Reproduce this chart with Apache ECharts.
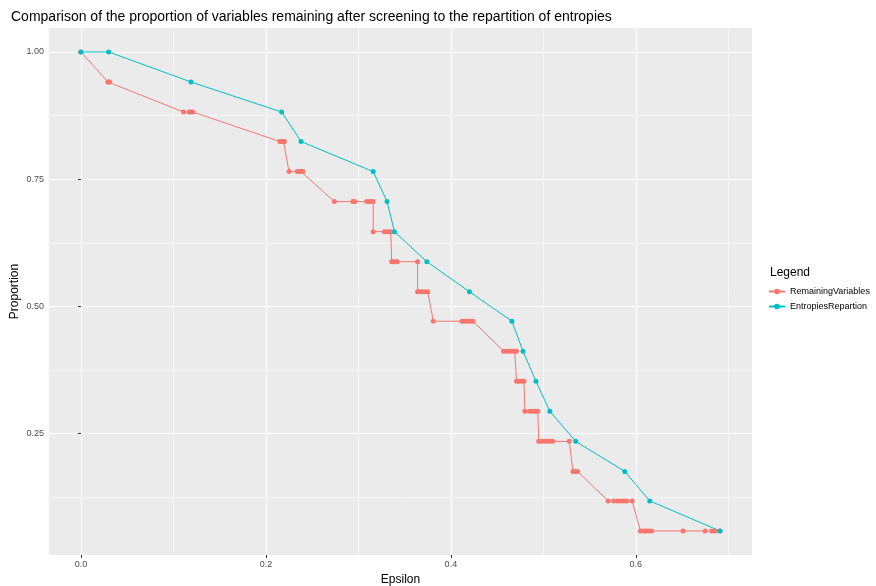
<!DOCTYPE html>
<html>
<head>
<meta charset="utf-8">
<script src="https://cdn.jsdelivr.net/npm/echarts@6/dist/echarts.min.js"></script>
<style>
html,body{margin:0;padding:0;background:#fff;}
#chart{width:876px;height:586px;}
</style>
</head>
<body>
<div id="chart"></div>
<script>
// remaining variables (red)
var remX = [0,
	0.029,0.030,0.031,
	0.111,0.117,0.119,0.121,
	0.215,0.217,0.219,0.220,
	0.225,0.234,0.236,0.238,0.240,
	0.274,0.294,0.296,0.309,0.312,0.314,0.316,
	0.316,0.328,0.331,0.333,0.335,
	0.336,0.338,0.340,0.342,0.364,
	0.364,0.366,0.369,0.372,0.375,
	0.381,0.412,0.415,0.418,0.421,0.424,
	0.457,0.460,0.463,0.466,0.469,0.471,
	0.471,0.473,0.476,0.479,
	0.480,0.485,0.488,0.491,0.494,
	0.495,0.498,0.501,0.504,0.507,0.510,0.528,
	0.532,0.534,0.537,
	0.570,0.576,0.580,0.584,0.587,0.590,0.596,
	0.605,0.608,0.611,0.614,0.617,0.651,0.675,0.682,0.686,0.691];
var remY = [1,
	0.941,0.941,0.941,
	0.882,0.882,0.882,0.882,
	0.824,0.824,0.824,0.824,
	0.765,0.765,0.765,0.765,0.765,
	0.706,0.706,0.706,0.706,0.706,0.706,0.706,
	0.647,0.647,0.647,0.647,0.647,
	0.588,0.588,0.588,0.588,0.588,
	0.529,0.529,0.529,0.529,0.529,
	0.471,0.471,0.471,0.471,0.471,0.471,
	0.412,0.412,0.412,0.412,0.412,0.412,
	0.353,0.353,0.353,0.353,
	0.294,0.294,0.294,0.294,0.294,
	0.235,0.235,0.235,0.235,0.235,0.235,0.235,
	0.176,0.176,0.176,
	0.118,0.118,0.118,0.118,0.118,0.118,0.118,
	0.059,0.059,0.059,0.059,0.059,0.059,0.059,0.059,0.059,0.059];

// entropies repartition (teal)
var entX = [0,0.030,0.119,0.217,0.238,0.316,0.331,0.339,0.374,0.420,0.466,0.478,0.492,0.507,0.535,0.588,0.615,0.691];
var entY = [1,1,0.941,0.882,0.824,0.765,0.706,0.647,0.588,0.529,0.471,0.412,0.353,0.294,0.235,0.176,0.118,0.059];

var xTicks = [0,0.2,0.4,0.6];
var xMinor = [0.1,0.3,0.5,0.7];
var yTicks = [0.25,0.5,0.75,1];
var yMinor = [0.125,0.375,0.625,0.875];

function pairs(xs,ys){
	var out = [];
	for(var i=0;i<xs.length;i++){
		out.push([xs[i],ys[i]]);
	}
	return out;
}

var xMin = -0.03455, xMax = 0.7256;
var yMin = 0.01176, yMax = 1.04706;
var font = 'Liberation Sans, Arial, Helvetica, sans-serif';

var myChart = echarts.init(document.getElementById('chart'));
var option = {
	animation:false,
	backgroundColor:'#ffffff',
	title:[{
		text:'Comparison of the proportion of variables remaining after screening to the repartition of entropies',
		left:6,top:5,
		textStyle:{fontFamily:font,fontSize:14,fontWeight:'normal',color:'#000'}
	},{
		text:'Legend',
		left:765,top:262,
		textStyle:{fontFamily:font,fontSize:12,fontWeight:'normal',color:'#000'}
	}],
	legend:{
		orient:'vertical',
		left:763,top:282,
		itemWidth:16,itemHeight:7,itemGap:6,
		textStyle:{fontFamily:font,fontSize:9,color:'#000'},
		data:['RemainingVariables','EntropiesRepartion']
	},
	grid:{left:49,right:124,top:28,bottom:31,backgroundColor:'#EBEBEB',show:true,borderWidth:0,
		containLabel:false,outerBoundsMode:'none'},
	xAxis:[{
		type:'value',min:xMin,max:xMax,
		name:'Epsilon',nameLocation:'middle',nameGap:14,
		nameTextStyle:{fontFamily:font,fontSize:12,color:'#000'},
		axisLine:{show:false},
		axisTick:{show:true,length:3,customValues:xTicks,lineStyle:{color:'#333'}},
		axisLabel:{customValues:xTicks,fontFamily:font,fontSize:9,color:'#4D4D4D',margin:5,
			formatter:function(v){return v.toFixed(1);}},
		splitLine:{show:true,lineStyle:{color:'#fff',width:1.2}}
	},{
		type:'value',min:xMin,max:xMax,position:'bottom',
		axisLine:{show:false},
		axisTick:{show:false,customValues:xMinor},
		axisLabel:{show:false},
		splitLine:{show:true,lineStyle:{color:'#fff',width:0.6}}
	}],
	yAxis:[{
		type:'value',min:yMin,max:yMax,
		name:'Proportion',nameLocation:'middle',nameGap:28,nameMoveOverlap:false,
		nameTextStyle:{fontFamily:font,fontSize:12,color:'#000'},
		axisLine:{show:false},
		axisTick:{show:true,length:3,customValues:yTicks,lineStyle:{color:'#333'}},
		axisLabel:{customValues:yTicks,fontFamily:font,fontSize:9,color:'#4D4D4D',margin:5,
			formatter:function(v){return v.toFixed(2);}},
		splitLine:{show:true,lineStyle:{color:'#fff',width:1.2}}
	},{
		type:'value',min:yMin,max:yMax,position:'left',
		axisLine:{show:false},
		axisTick:{show:false,customValues:yMinor},
		axisLabel:{show:false},
		splitLine:{show:true,lineStyle:{color:'#fff',width:0.6}}
	}],
	series:[{
		name:'RemainingVariables',
		type:'line',
		data:pairs(remX,remY),
		symbol:'circle',symbolSize:5,showAllSymbol:true,
		itemStyle:{color:'#F8766D'},
		lineStyle:{color:'#F8766D',width:1}
	},{
		name:'EntropiesRepartion',
		type:'line',
		data:pairs(entX,entY),
		symbol:'circle',symbolSize:5,showAllSymbol:true,
		itemStyle:{color:'#00BFC4'},
		lineStyle:{color:'#00BFC4',width:1}
	}]
};
myChart.setOption(option);
</script>
</body>
</html>
